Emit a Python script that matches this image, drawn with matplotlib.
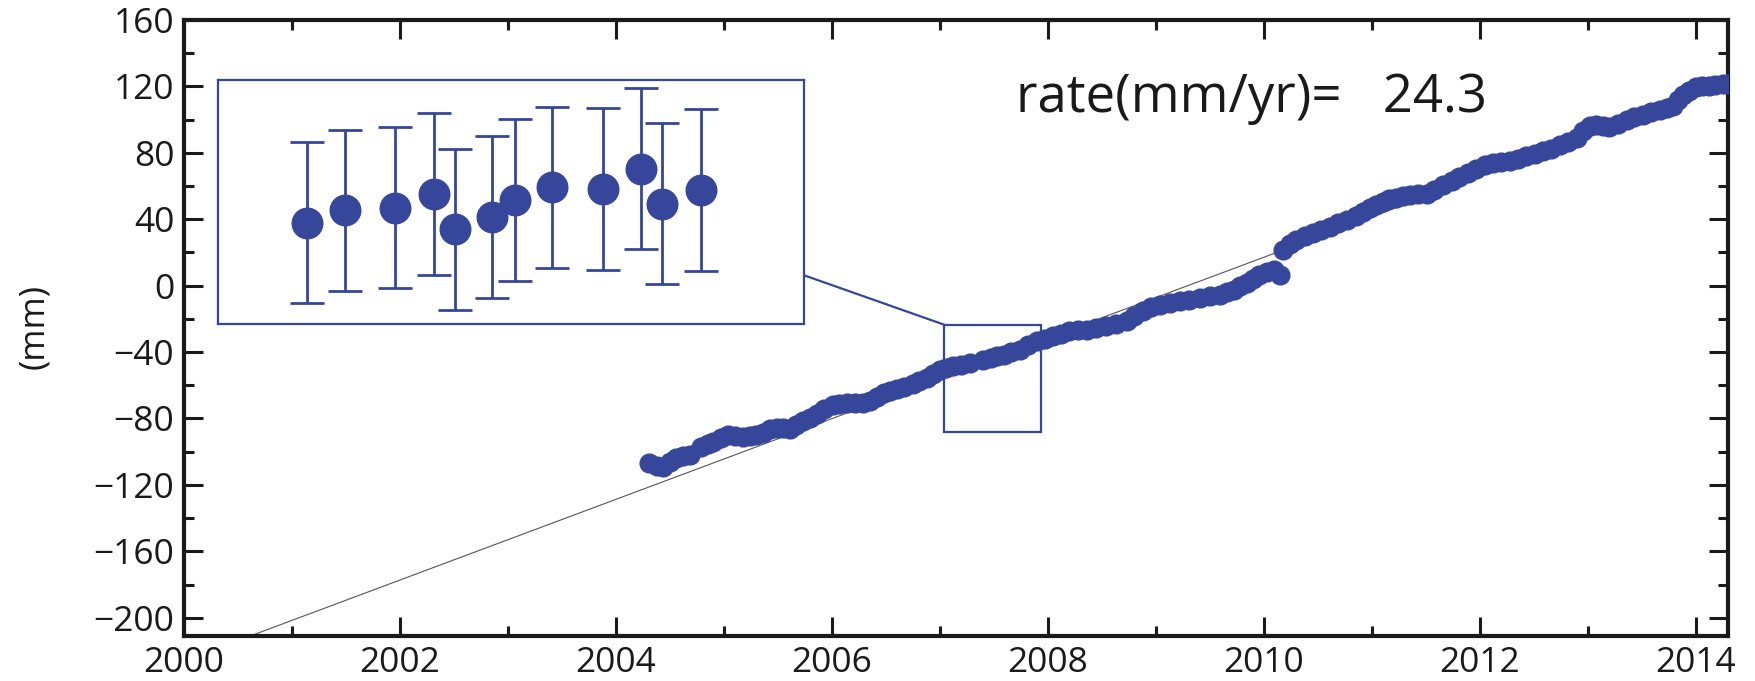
import matplotlib
matplotlib.use("Agg")
import matplotlib.pyplot as plt
from matplotlib.patches import Rectangle
from matplotlib.ticker import MultipleLocator
import numpy as np

plt.rcParams['font.family'] = ['Open Sans', 'DejaVu Sans']

# ---- data ----
seg1_t = [2004.31, 2004.38, 2004.44, 2004.50, 2004.56, 2004.62, 2004.69, 2004.79, 2004.85, 2004.90,
          2004.97, 2005.04, 2005.10, 2005.18, 2005.24, 2005.30, 2005.36, 2005.43, 2005.49, 2005.55,
          2005.61, 2005.67, 2005.73, 2005.80, 2005.86, 2005.93, 2006.01, 2006.07, 2006.14, 2006.21,
          2006.29, 2006.35, 2006.42, 2006.48, 2006.54, 2006.60, 2006.67, 2006.75, 2006.81, 2006.88,
          2006.94, 2007.00, 2007.06, 2007.12, 2007.20, 2007.28, 2007.40, 2007.47, 2007.53, 2007.59,
          2007.66, 2007.74, 2007.82, 2007.90, 2007.97, 2008.05, 2008.12, 2008.20, 2008.28, 2008.36,
          2008.45, 2008.54, 2008.63, 2008.73, 2008.80, 2008.88, 2008.96, 2009.04, 2009.13, 2009.22,
          2009.31, 2009.41, 2009.50, 2009.59, 2009.66, 2009.72, 2009.78, 2009.84, 2009.90, 2009.96,
          2010.03, 2010.09, 2010.15]
seg1_y = [-107.0, -108.5, -109.0, -106.0, -104.0, -102.5, -102.0, -97.0, -95.5, -94.0,
          -92.0, -90.0, -90.5, -91.0, -90.5, -90.0, -88.5, -86.5, -85.5, -86.0,
          -86.5, -84.0, -81.5, -79.5, -77.5, -74.5, -72.0, -71.0, -70.5, -70.5,
          -70.5, -69.5, -67.0, -64.5, -63.5, -62.5, -61.0, -59.5, -57.5, -55.5,
          -53.0, -50.5, -49.5, -48.5, -47.5, -46.5, -44.5, -43.5, -42.5, -41.5,
          -40.0, -38.5, -36.0, -33.5, -32.0, -30.5, -29.0, -27.5, -27.0, -26.5,
          -25.5, -24.5, -23.0, -21.5, -18.5, -15.0, -13.0, -11.5, -10.5, -9.5,
          -8.5, -7.5, -6.5, -5.5, -4.0, -2.5, -0.5, 1.5, 4.0, 6.5,
          8.5, 9.5, 6.5]

seg2_t = [2010.18, 2010.24, 2010.30, 2010.38, 2010.46, 2010.53, 2010.61, 2010.69, 2010.77, 2010.85,
          2010.92, 2010.98, 2011.04, 2011.10, 2011.16, 2011.22, 2011.29, 2011.35, 2011.43, 2011.51,
          2011.58, 2011.66, 2011.74, 2011.81, 2011.89, 2011.97, 2012.05, 2012.12, 2012.20, 2012.28,
          2012.35, 2012.43, 2012.51, 2012.59, 2012.66, 2012.74, 2012.82, 2012.90, 2012.96, 2013.02,
          2013.08, 2013.14, 2013.20, 2013.28, 2013.36, 2013.43, 2013.51, 2013.59, 2013.67, 2013.73,
          2013.79, 2013.84, 2013.88, 2013.94, 2014.00, 2014.06, 2014.12, 2014.18, 2014.25, 2014.30]
seg2_y = [21.5, 25.0, 27.5, 30.0, 31.5, 33.5, 35.5, 37.5, 39.5, 42.0,
          44.5, 47.0, 48.5, 50.5, 52.0, 53.0, 54.0, 54.5, 55.0, 55.0,
          57.5, 60.5, 63.0, 65.5, 68.0, 70.5, 72.5, 74.0, 74.5, 75.0,
          76.5, 78.0, 79.5, 81.0, 82.5, 84.5, 86.5, 89.0, 93.0, 96.0,
          97.0, 96.0, 95.5, 97.5, 99.5, 101.5, 103.0, 104.5, 106.0, 107.0,
          108.5, 112.0, 115.0, 117.5, 119.5, 120.0, 120.5, 121.0, 121.5, 121.5]

# linear trend
rate = 24.3
trend_ref_year = 2008.0
trend_ref_value = -31.5

# zoom window shown in the inset
zoom_t = (2007.04, 2007.94)
zoom_y = (-88.4, -23.5)

# inset points with error bars
inset_t = [2007.178, 2007.235, 2007.313, 2007.372, 2007.405, 2007.462,
           2007.496, 2007.554, 2007.632, 2007.690, 2007.723, 2007.782]
inset_y = [-61.5, -58.2, -57.5, -53.9, -63.3, -60.0,
           -55.5, -52.1, -52.6, -47.1, -56.4, -52.8]
inset_err = [21.5] * 12

xlim = (2000, 2014.3)
ylim = (-211, 160)
xticks = [2000, 2002, 2004, 2006, 2008, 2010, 2012, 2014]
yticks = [-200, -160, -120, -80, -40, 0, 40, 80, 120, 160]

blue = '#36469a'
ink = '#1a1a1a'

# ---- figure ----
fig = plt.figure(figsize=(17.56, 6.81), dpi=100)
ax = fig.add_axes([0.1048, 0.0661, 0.8793, 0.9045])

tt = np.array(xlim)
ax.plot(tt, trend_ref_value + rate * (tt - trend_ref_year), color='#555555', lw=0.8, zorder=2)
ax.plot(seg1_t, seg1_y, 'o', ms=13.5, color=blue, mec=blue, zorder=3)
ax.plot(seg2_t, seg2_y, 'o', ms=13.5, color=blue, mec=blue, zorder=3)

ax.set_xlim(*xlim)
ax.set_ylim(*ylim)
ax.set_xticks(xticks)
ax.set_yticks(yticks)
ax.set_yticklabels([f'{v}'.replace('-', '\u2212') for v in yticks])
ax.xaxis.set_minor_locator(MultipleLocator(1))
ax.yaxis.set_minor_locator(MultipleLocator(20))
ax.tick_params(which='both', direction='in', top=True, right=True, width=2.2, colors=ink,
               labelsize=25.5)
ax.tick_params(which='major', length=13.5, pad=7)
ax.tick_params(which='minor', length=7)
for s in ax.spines.values():
    s.set_linewidth(3)
    s.set_color(ink)

fig.text(34 / 1756, 0.52, '(mm)', rotation=90, ha='center', va='center', fontsize=25, color=ink)

ax.text(0.539, 0.873, f'rate(mm/yr)=   {rate}', transform=ax.transAxes, fontsize=38,
        ha='left', va='center', color=ink)

# zoom rectangle in main axes
ax.add_patch(Rectangle((zoom_t[0], zoom_y[0]), zoom_t[1] - zoom_t[0], zoom_y[1] - zoom_y[0],
                       fill=False, edgecolor=blue, lw=1.6, zorder=4))

# inset axes
inset_bounds = (2000.31, -22.9, 5.43, 146.8)
ins = ax.inset_axes(inset_bounds, transform=ax.transData)
ins.set_xlim(*zoom_t)
ins.set_ylim(*zoom_y)
ins.set_xticks([])
ins.set_yticks([])
for s in ins.spines.values():
    s.set_edgecolor(blue)
    s.set_linewidth(1.6)
ins.errorbar(inset_t, inset_y, yerr=inset_err, fmt='o', ms=22, color=blue, mec=blue,
             ecolor=blue, elinewidth=2.0, capsize=12.5, capthick=2.0)

# connector line from inset to zoom rectangle
ax.plot([inset_bounds[0] + inset_bounds[2], zoom_t[0]], [6.3, zoom_y[1]], color=blue, lw=1.6, zorder=4)

fig.savefig('out.png', dpi=100, facecolor='white')
